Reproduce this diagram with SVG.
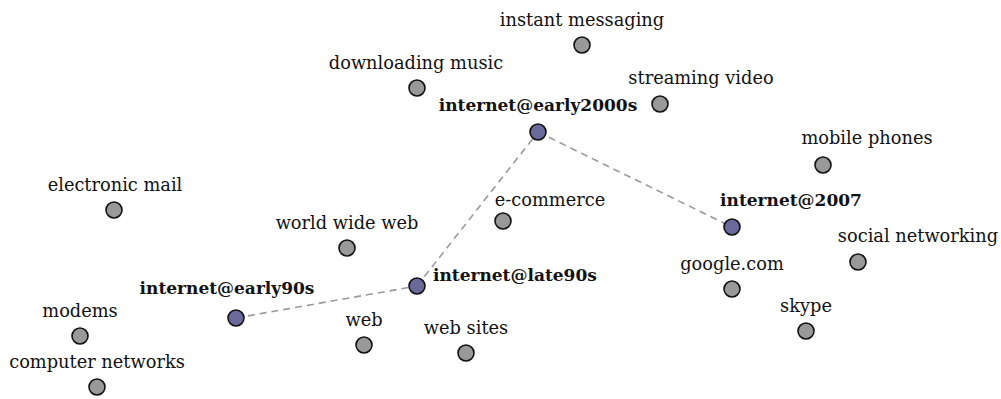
<svg xmlns="http://www.w3.org/2000/svg" width="1001" height="399" viewBox="0 0 1001 399">
<style>
text{font-family:"DejaVu Serif","Liberation Serif",serif;font-size:17.8px;fill:#111;text-anchor:middle}
.b{font-weight:bold;font-size:17px}
.n{fill:#999;stroke:#111;stroke-width:1.6}
.h{fill:#6a6a9a;stroke:#111;stroke-width:1.6}
.e{stroke:#999;stroke-width:1.6;stroke-dasharray:7,5;fill:none}
</style>
<rect width="1001" height="399" fill="#fff"/>
<g id="edges">
<line class="e" x1="236" y1="318" x2="417" y2="286"/>
<line class="e" x1="417" y1="286" x2="538" y2="132"/>
<line class="e" x1="538" y1="132" x2="732" y2="227"/>
</g>
<g id="n-instant"><circle class="n" cx="582" cy="45" r="8"/><text x="582" y="26">instant messaging</text></g>
<g id="n-download"><circle class="n" cx="417" cy="88" r="8"/><text x="416" y="69">downloading music</text></g>
<g id="n-stream"><circle class="n" cx="660" cy="104" r="8"/><text x="701" y="84">streaming video</text></g>
<g id="n-mobile"><circle class="n" cx="823" cy="165" r="8"/><text x="867" y="144">mobile phones</text></g>
<g id="n-email"><circle class="n" cx="114" cy="210" r="8"/><text x="115" y="191">electronic mail</text></g>
<g id="n-www"><circle class="n" cx="347" cy="248" r="8"/><text x="347" y="229">world wide web</text></g>
<g id="n-ecom"><circle class="n" cx="503" cy="221" r="8"/><text x="550" y="206">e-commerce</text></g>
<g id="n-social"><circle class="n" cx="858" cy="262" r="8"/><text x="918" y="242">social networking</text></g>
<g id="n-google"><circle class="n" cx="732" cy="289" r="8"/><text x="732" y="270">google.com</text></g>
<g id="n-skype"><circle class="n" cx="806" cy="331" r="8"/><text x="806" y="312">skype</text></g>
<g id="n-modems"><circle class="n" cx="80" cy="336" r="8"/><text x="80" y="317">modems</text></g>
<g id="n-compnet"><circle class="n" cx="97" cy="387" r="8"/><text x="97" y="368">computer networks</text></g>
<g id="n-web"><circle class="n" cx="364" cy="345" r="8"/><text x="364" y="326">web</text></g>
<g id="n-websites"><circle class="n" cx="466" cy="353" r="8"/><text x="466" y="334">web sites</text></g>
<g id="n-early90s"><circle class="h" cx="236" cy="318" r="8"/><text class="b" x="227" y="294">internet@early90s</text></g>
<g id="n-late90s"><circle class="h" cx="417" cy="286" r="8"/><text class="b" x="433" y="281" style="text-anchor:start">internet@late90s</text></g>
<g id="n-early2000s"><circle class="h" cx="538" cy="132" r="8"/><text class="b" x="538" y="111">internet@early2000s</text></g>
<g id="n-2007"><circle class="h" cx="732" cy="227" r="8"/><text class="b" x="791" y="206">internet@2007</text></g>
</svg>
